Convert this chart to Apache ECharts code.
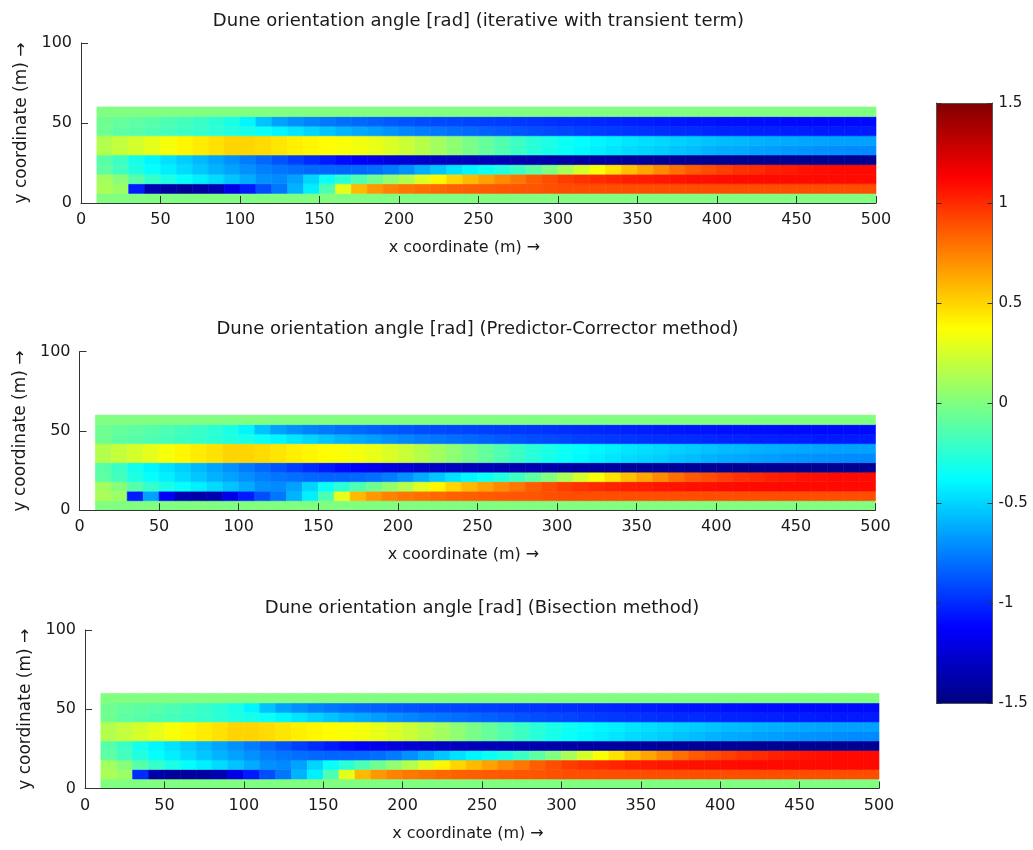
<!DOCTYPE html>
<html><head><meta charset="utf-8">
<script src="https://cdn.jsdelivr.net/npm/echarts@6/dist/echarts.min.js"></script>
<style>html,body{margin:0;padding:0;background:#fff}#c{width:1033px;height:850px}</style>
</head><body><div id="c"></div><script>
// ---- data ----
const titles = [
  'Dune orientation angle [rad] (iterative with transient term)',
  'Dune orientation angle [rad] (Predictor-Corrector method)',
  'Dune orientation angle [rad] (Bisection method)'
];
const xName = 'x coordinate (m) \u2192';
const yName = 'y coordinate (m) \u2192';
const xTicks = [0,50,100,150,200,250,300,350,400,450,500];
const yTicks = [0,50,100];
const cbTicks = [-1.5,-1,-0.5,0,0.5,1,1.5];
// cell edges of the grid (x: 10..500 m, y: 0..60 m)
const xEdges = [10,20,30,40,50,60,70,80,90,100,110,120,130,140,150,160,170,180,190,200,210,220,230,240,250,260,270,280,290,300,310,320,330,340,350,360,370,380,390,400,410,420,430,440,450,460,470,480,490,500];
const yEdges = [0,6,12,18,24,30,36,42,48,54,60];

const row_0_6 = [0,0,0,0,0,0,0,0,0,0, 0,0,0,0,0,0,0,0,0,0, 0,0,0,0,0,0,0,0,0,0, 0,0,0,0,0,0,0,0,0,0, 0,0,0,0,0,0,0,0,0];
const row_6_12_iter = [0.12,0.08,-1.05,-1.35,-1.4,-1.42,-1.4,-1.35,-1.2,-1.05, -0.9,-0.78,-0.6,-0.42,-0.15,0.3,0.58,0.68,0.74,0.78, 0.8,0.82,0.84,0.85,0.86,0.87,0.88,0.88,0.89,0.9, 0.9,0.9,0.9,0.9,0.9,0.9,0.9,0.9,0.9,0.9, 0.9,0.9,0.9,0.9,0.9,0.9,0.9,0.9,0.9];
const row_6_12_pc = [0.12,0.08,-1.05,-0.65,-1.15,-1.35,-1.38,-1.35,-1.2,-1.05, -0.9,-0.78,-0.6,-0.42,-0.15,0.3,0.58,0.68,0.74,0.78, 0.8,0.82,0.84,0.85,0.86,0.87,0.88,0.88,0.89,0.9, 0.9,0.9,0.9,0.9,0.9,0.9,0.9,0.9,0.9,0.9, 0.9,0.9,0.9,0.9,0.9,0.9,0.9,0.9,0.9];
const row_6_12_bis = [0.12,0.08,-1.0,-1.38,-1.42,-1.42,-1.4,-1.35,-1.2,-1.05, -0.9,-0.78,-0.6,-0.42,-0.15,0.3,0.58,0.68,0.74,0.78, 0.8,0.82,0.84,0.85,0.86,0.87,0.88,0.88,0.89,0.9, 0.9,0.9,0.9,0.9,0.9,0.9,0.9,0.9,0.9,0.9, 0.9,0.9,0.9,0.9,0.9,0.9,0.9,0.9,0.9];
const row_12_18 = [0.1,0.02,-0.12,-0.22,-0.3,-0.36,-0.42,-0.48,-0.55,-0.62, -0.7,-0.72,-0.65,-0.5,-0.35,-0.25,-0.15,-0.05,0.05,0.15, 0.28,0.4,0.5,0.58,0.65,0.72,0.78,0.85,0.9,0.95, 0.98,1.0,1.02,1.04,1.05,1.06,1.07,1.08,1.08,1.09, 1.1,1.1,1.1,1.1,1.1,1.1,1.1,1.1,1.1];
const row_18_24 = [-0.1,-0.18,-0.28,-0.36,-0.42,-0.48,-0.54,-0.6,-0.65,-0.7, -0.75,-0.78,-0.8,-0.82,-0.83,-0.83,-0.82,-0.8,-0.76,-0.7, -0.62,-0.54,-0.46,-0.4,-0.34,-0.28,-0.2,-0.1,0.0,0.12, 0.25,0.36,0.46,0.56,0.64,0.72,0.8,0.86,0.9,0.94, 0.98,1.0,1.03,1.05,1.07,1.08,1.1,1.1,1.1];
const row_24_30 = [-0.12,-0.2,-0.32,-0.4,-0.46,-0.52,-0.58,-0.64,-0.7,-0.76, -0.82,-0.88,-0.94,-1.0,-1.05,-1.1,-1.14,-1.18,-1.22,-1.25, -1.28,-1.3,-1.32,-1.33,-1.34,-1.35,-1.36,-1.37,-1.38,-1.39, -1.4,-1.4,-1.41,-1.42,-1.42,-1.43,-1.43,-1.44,-1.44,-1.44, -1.45,-1.45,-1.45,-1.45,-1.45,-1.45,-1.45,-1.45,-1.45];
const row_30_36 = [0.15,0.2,0.25,0.3,0.35,0.4,0.43,0.46,0.5,0.5, 0.48,0.45,0.42,0.4,0.38,0.36,0.34,0.31,0.27,0.22, 0.16,0.1,0.04,-0.02,-0.08,-0.14,-0.2,-0.26,-0.31,-0.35, -0.39,-0.42,-0.45,-0.48,-0.5,-0.52,-0.55,-0.57,-0.6,-0.62, -0.63,-0.65,-0.66,-0.68,-0.69,-0.7,-0.71,-0.72,-0.72];
const row_36_42 = [0.15,0.2,0.25,0.3,0.35,0.4,0.43,0.46,0.5,0.5, 0.48,0.45,0.42,0.4,0.38,0.36,0.34,0.31,0.27,0.22, 0.16,0.1,0.04,-0.02,-0.08,-0.14,-0.2,-0.26,-0.3,-0.34, -0.37,-0.4,-0.42,-0.45,-0.47,-0.49,-0.51,-0.53,-0.55,-0.57, -0.58,-0.6,-0.61,-0.62,-0.63,-0.64,-0.65,-0.65,-0.65];
const row_42_48 = [-0.05,-0.1,-0.12,-0.15,-0.17,-0.2,-0.22,-0.25,-0.28,-0.31, -0.35,-0.4,-0.45,-0.5,-0.55,-0.6,-0.63,-0.66,-0.7,-0.73, -0.76,-0.78,-0.8,-0.82,-0.84,-0.86,-0.88,-0.9,-0.91,-0.92, -0.94,-0.95,-0.96,-0.97,-0.98,-0.99,-1.0,-1.0,-1.01,-1.02, -1.02,-1.03,-1.03,-1.04,-1.04,-1.05,-1.05,-1.05,-1.05];
const row_48_54 = [-0.05,-0.08,-0.1,-0.12,-0.15,-0.18,-0.21,-0.25,-0.3,-0.4, -0.55,-0.65,-0.7,-0.74,-0.77,-0.8,-0.82,-0.84,-0.86,-0.88, -0.9,-0.91,-0.92,-0.93,-0.94,-0.95,-0.96,-0.97,-0.98,-0.99, -1.0,-1.01,-1.02,-1.03,-1.04,-1.05,-1.06,-1.07,-1.07,-1.08, -1.08,-1.09,-1.09,-1.1,-1.1,-1.1,-1.1,-1.1,-1.1];
const row_54_60 = [0,0,0,0,0,0,0,0,0,0, 0,0,0,0,0,0,0,0,0,0, 0,0,0,0,0,0,0,0,0,0, 0,0,0,0,0,0,0,0,0,0, 0,0,0,0,0,0,0,0,0];

const rowsIter = [row_0_6,row_6_12_iter,row_12_18,row_18_24,row_24_30,row_30_36,row_36_42,row_42_48,row_48_54,row_54_60];
const rowsPC   = [row_0_6,row_6_12_pc,  row_12_18,row_18_24,row_24_30,row_30_36,row_36_42,row_42_48,row_48_54,row_54_60];
const rowsBis  = [row_0_6,row_6_12_bis, row_12_18,row_18_24,row_24_30,row_30_36,row_36_42,row_42_48,row_48_54,row_54_60];

// ---- chart ----
const FONT = 'DejaVu Sans';
const TXT = '#1a1a1a';
const AX = '#333333';
const jet = ['#000080','#0000ff','#0080ff','#00ffff','#80ff80','#ffff00','#ff8000','#ff0000','#800000'];

function buildCells(rows){
  const out = [];
  rows.forEach(function(row, r){
    if (row.length !== xEdges.length - 1) throw new Error('row ' + r + ' has ' + row.length);
    row.forEach(function(v, c){ out.push([xEdges[c], xEdges[c+1], yEdges[r], yEdges[r+1], v]); });
  });
  return out;
}

const panels = [
  {title: titles[0], rows: rowsIter, grid: {left: 81,   top: 43,    width: 795, height: 160},   titleY: 21},
  {title: titles[1], rows: rowsPC,   grid: {left: 79.5, top: 351.7, width: 796, height: 158.5}, titleY: 329},
  {title: titles[2], rows: rowsBis,  grid: {left: 85,   top: 630,   width: 794, height: 158.5}, titleY: 608}
];

const grid = [], xAxis = [], yAxis = [], series = [], graphic = [];
panels.forEach(function(p, i){
  grid.push(Object.assign({containLabel: false}, p.grid));
  xAxis.push({
    type: 'value', gridIndex: i, min: xTicks[0], max: xTicks[xTicks.length-1], interval: xTicks[1]-xTicks[0],
    z: 5, splitLine: {show: false},
    axisLine: {onZero: false, lineStyle: {color: AX, width: 1}},
    axisTick: {inside: true, length: 7, lineStyle: {color: AX}},
    axisLabel: {color: TXT, fontSize: 16, fontFamily: FONT, margin: 9},
    name: xName, nameLocation: 'middle', nameGap: 37,
    nameTextStyle: {color: TXT, fontSize: 16, fontFamily: FONT, padding: [0, 28, 0, 0]}
  });
  yAxis.push({
    type: 'value', gridIndex: i, min: yTicks[0], max: yTicks[yTicks.length-1], interval: yTicks[1]-yTicks[0],
    z: 5, splitLine: {show: false},
    axisLine: {show: true, onZero: false, lineStyle: {color: AX, width: 1}},
    axisTick: {show: true, inside: true, length: 7, lineStyle: {color: AX}},
    axisLabel: {color: TXT, fontSize: 16, fontFamily: FONT, margin: 9},
    name: yName, nameLocation: 'middle', nameGap: 48, nameRotate: 90,
    nameTextStyle: {color: TXT, fontSize: 17, fontFamily: FONT}
  });
  series.push({
    type: 'custom', xAxisIndex: i, yAxisIndex: i, z: 2,
    dimensions: ['x0','x1','y0','y1','angle'],
    encode: {x: [0,1], y: [2,3]},
    data: buildCells(p.rows),
    renderItem: function(params, api){
      const a = api.coord([api.value(0), api.value(3)]);
      const b = api.coord([api.value(1), api.value(2)]);
      const c = api.visual('color');
      return {type: 'rect', shape: {x: a[0], y: a[1], width: b[0]-a[0], height: b[1]-a[1]},
              style: {fill: c, stroke: c, lineWidth: 0.6}};
    }
  });
  graphic.push({type: 'text', x: p.grid.left + p.grid.width/2, y: p.titleY,
    style: {text: p.title, fill: TXT, font: '18px "' + FONT + '"', align: 'center', verticalAlign: 'middle'}});
});

// colorbar: its own grid, gradient bar drawn through the grid's scale, framed by axes
const cb = {left: 936.5, top: 103, width: 56, height: 600};
grid.push(Object.assign({}, cb));
const cbIdx = 3;
const cbMin = cbTicks[0], cbMax = cbTicks[cbTicks.length-1];
xAxis.push({type: 'value', gridIndex: cbIdx, position: 'bottom', z: 20, min: 0, max: 1,
  axisLine: {onZero: false, lineStyle: {color: '#555'}}, axisTick: {show: false}, axisLabel: {show: false}, splitLine: {show: false}});
xAxis.push({type: 'value', gridIndex: cbIdx, position: 'top', z: 20, min: 0, max: 1,
  axisLine: {onZero: false, lineStyle: {color: '#555'}}, axisTick: {show: false}, axisLabel: {show: false}, splitLine: {show: false}});
yAxis.push({type: 'value', gridIndex: cbIdx, position: 'right', z: 20,
  min: cbMin, max: cbMax, interval: cbTicks[1]-cbTicks[0],
  axisLine: {show: true, onZero: false, lineStyle: {color: '#555'}},
  axisTick: {show: true, inside: true, length: 5, lineStyle: {color: '#333'}},
  axisLabel: {color: TXT, fontSize: 15, fontFamily: FONT, margin: 6}, splitLine: {show: false}});
yAxis.push({type: 'value', gridIndex: cbIdx, position: 'left', z: 20,
  min: cbMin, max: cbMax, interval: cbTicks[1]-cbTicks[0],
  axisLine: {show: true, onZero: false, lineStyle: {color: '#555'}},
  axisTick: {show: true, inside: true, length: 5, lineStyle: {color: '#333'}},
  axisLabel: {show: false}, splitLine: {show: false}});
const stops = jet.map(function(c, k){ return {offset: k/(jet.length-1), color: c}; });
series.push({
  type: 'custom', xAxisIndex: 3, yAxisIndex: 4, z: 2, silent: true,
  data: [[0, 1, cbMin, cbMax]],
  encode: {x: [0,1], y: [2,3]},
  renderItem: function(params, api){
    const a = api.coord([api.value(0), api.value(3)]);
    const b = api.coord([api.value(1), api.value(2)]);
    return {type: 'rect', shape: {x: a[0], y: a[1], width: b[0]-a[0], height: b[1]-a[1]},
            style: {fill: {type: 'linear', x: 0, y: 1, x2: 0, y2: 0, colorStops: stops}}};
  }
});

const chart = echarts.init(document.getElementById('c'), null, {renderer: 'canvas'});
chart.setOption({
  animation: false,
  backgroundColor: '#ffffff',
  grid: grid, xAxis: xAxis, yAxis: yAxis, series: series, graphic: graphic,
  visualMap: {
    type: 'continuous', show: false, seriesIndex: [0,1,2], dimension: 4,
    min: cbMin, max: cbMax,
    inRange: {color: jet}
  }
});
</script></body></html>
